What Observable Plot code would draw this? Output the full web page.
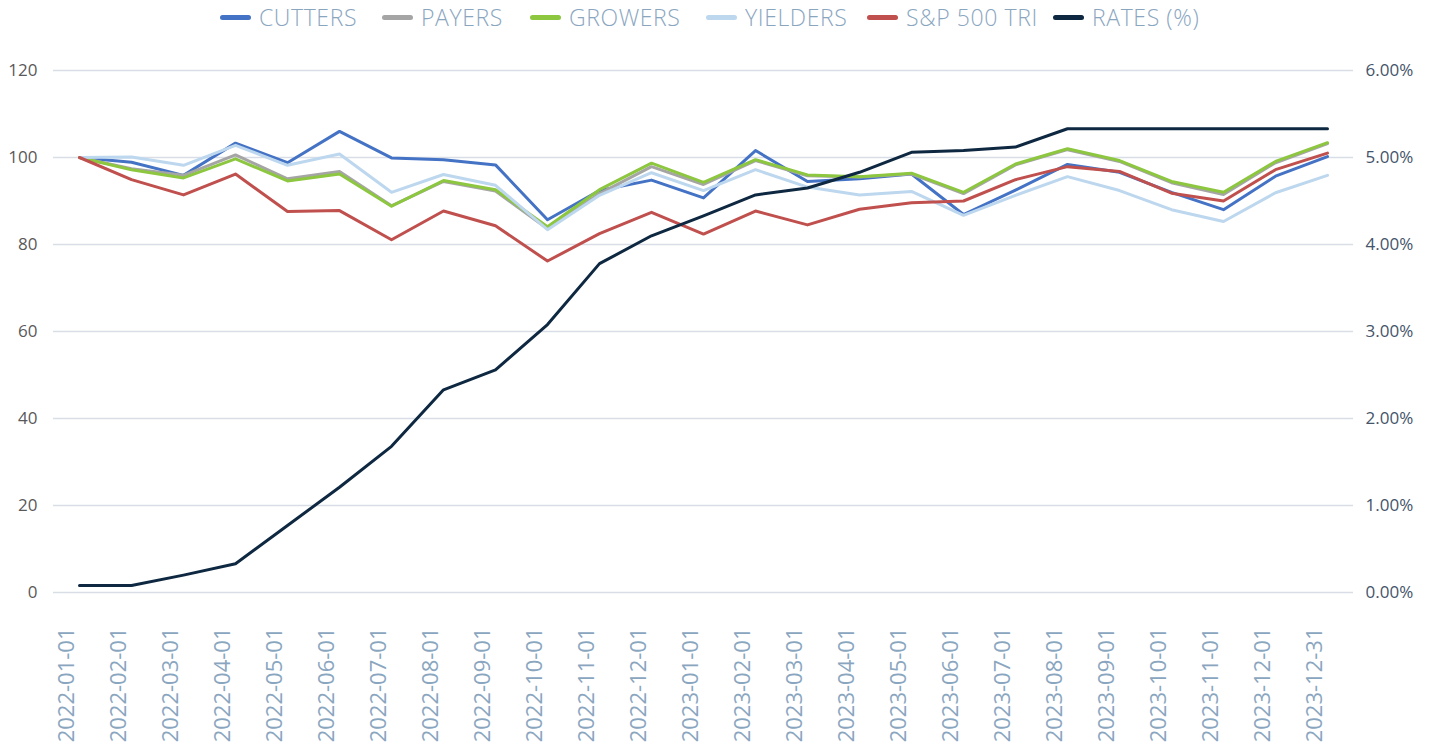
<!DOCTYPE html>
<html><head><meta charset="utf-8">
<script src="https://cdn.jsdelivr.net/npm/d3@7"></script>
<script src="https://cdn.jsdelivr.net/npm/@observablehq/plot@0.6"></script>
<style>
html,body{margin:0;padding:0;background:#fff;}
body{font-family:"Open Sans",sans-serif;width:1437px;height:756px;overflow:hidden;}
#legend{height:34px;position:relative;font-size:23px;color:#8aa6bf;font-weight:300;}
.item{position:absolute;top:0;height:34px;display:flex;align-items:center;gap:8px;white-space:nowrap;letter-spacing:0.6px;}
.sw{width:31px;height:5px;border-radius:3px;display:inline-block;}
#chart svg{display:block;}
</style></head>
<body>
<div id="legend"></div>
<div id="chart"></div>
<script>
const dates = ["2022-01-01","2022-02-01","2022-03-01","2022-04-01","2022-05-01","2022-06-01","2022-07-01","2022-08-01","2022-09-01","2022-10-01","2022-11-01","2022-12-01","2023-01-01","2023-02-01","2023-03-01","2023-04-01","2023-05-01","2023-06-01","2023-07-01","2023-08-01","2023-09-01","2023-10-01","2023-11-01","2023-12-01","2023-12-31"];
const seriesNames = ["CUTTERS","PAYERS","GROWERS","YIELDERS","S&P 500 TRI","RATES (%)"];
const seriesColors = ["#4472C4","#A5A5A5","#8DC63F","#BDD7EE","#C0504D","#0E2841"];
const cutters  = [100, 98.9, 95.9, 103.3, 98.8, 106.0, 99.9, 99.5, 98.3, 85.7, 92.4, 94.8, 90.7, 101.6, 94.5, 95.1, 96.2, 86.9, 92.5, 98.4, 96.6, 92.0, 88.0, 95.7, 100.2];
const payers   = [100, 97.4, 95.9, 100.6, 95.1, 96.8, 88.9, 94.5, 92.3, 83.6, 91.7, 97.9, 93.8, 99.3, 95.8, 95.5, 96.2, 91.7, 98.3, 101.8, 99.1, 94.2, 91.5, 98.8, 103.2];
const growers  = [100, 97.2, 95.3, 99.7, 94.6, 96.2, 88.8, 94.7, 92.6, 84.1, 92.6, 98.7, 94.3, 99.5, 96.0, 95.6, 96.4, 92.0, 98.5, 102.0, 99.3, 94.5, 92.0, 99.1, 103.4];
const yielders = [100, 100.1, 98.2, 102.8, 98.2, 100.8, 92.0, 96.1, 93.6, 83.4, 91.3, 96.5, 92.4, 97.2, 93.2, 91.4, 92.2, 86.7, 91.3, 95.6, 92.4, 88.0, 85.3, 91.9, 95.9];
const sp500    = [100, 94.9, 91.4, 96.2, 87.6, 87.8, 81.1, 87.7, 84.3, 76.2, 82.5, 87.4, 82.4, 87.7, 84.5, 88.1, 89.6, 90.0, 94.9, 97.9, 96.8, 91.8, 90.0, 97.2, 101.0];
const rates    = [0.08, 0.08, 0.20, 0.33, 0.77, 1.21, 1.68, 2.33, 2.56, 3.08, 3.78, 4.10, 4.33, 4.57, 4.65, 4.83, 5.06, 5.08, 5.12, 5.33, 5.33, 5.33, 5.33, 5.33, 5.33];
const leftTicks = [0, 20, 40, 60, 80, 100, 120];
const rightTicks = [0, 1, 2, 3, 4, 5, 6];

// right axis: 0–6% shares the 0–120 range of the left axis
const rateFactor = 120 / 6;
const seriesValues = [cutters, payers, growers, yielders, sp500, rates.map(r => r * rateFactor)];
const rows = [];
seriesNames.forEach((s, k) => seriesValues[k].forEach((v, i) => rows.push({date: dates[i], series: s, value: v})));

const legendLeft = [220, 382, 530, 706, 867, 1053];
const legend = document.getElementById("legend");
seriesNames.forEach((s, k) => {
  const it = document.createElement("div"); it.className = "item"; it.style.left = legendLeft[k] + "px";
  const sw = document.createElement("span"); sw.className = "sw"; sw.style.background = seriesColors[k];
  const tx = document.createElement("span"); tx.textContent = s;
  it.appendChild(sw); it.appendChild(tx); legend.appendChild(it);
});

const chart = Plot.plot({
  width: 1437, height: 722,
  marginTop: 36, marginBottom: 164, marginLeft: 53, marginRight: 84,
  style: {fontFamily: "'Open Sans', sans-serif", background: "#fff"},
  x: {type: "point", domain: dates, padding: 0.5},
  y: {domain: [0, 120]},
  color: {domain: seriesNames, range: seriesColors},
  marks: [
    Plot.gridY(leftTicks, {stroke: "#d9dee6", strokeOpacity: 1, strokeWidth: 1.3}),
    Plot.axisY(leftTicks, {anchor: "left", tickSize: 0, tickPadding: 16, fontSize: 17, color: "#595959", label: null}),
    Plot.axisY(rightTicks.map(t => t * rateFactor), {anchor: "right", tickSize: 0, tickPadding: 12, fontSize: 17, color: "#44546a", label: null, tickFormat: d => (d / rateFactor).toFixed(2) + "%"}),
    Plot.axisX({tickRotate: -90, tickSize: 0, tickPadding: 35, fontSize: 22, color: "#8aa6bf", label: null, dx: -13}),
    Plot.line(rows, {x: "date", y: "value", z: "series", stroke: "series", strokeWidth: 3, strokeLinejoin: "round"})
  ]
});
document.getElementById("chart").appendChild(chart);
</script>
</body></html>
